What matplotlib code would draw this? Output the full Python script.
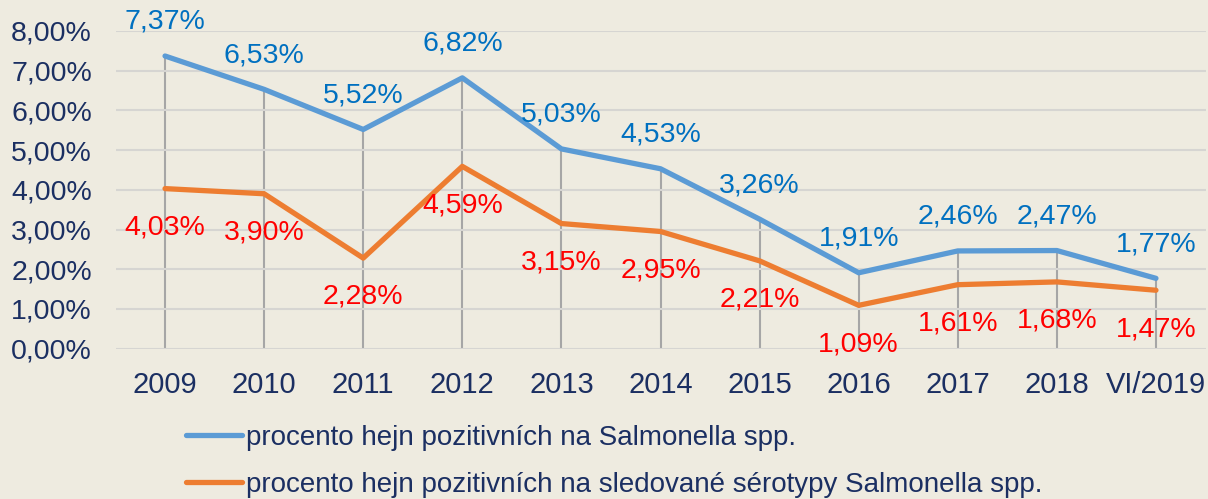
import matplotlib
matplotlib.use("Agg")
import matplotlib.pyplot as plt
from matplotlib.ticker import FuncFormatter

categories = ["2009", "2010", "2011", "2012", "2013", "2014", "2015", "2016", "2017", "2018", "VI/2019"]
blue_vals = [7.37, 6.53, 5.52, 6.82, 5.03, 4.53, 3.26, 1.91, 2.46, 2.47, 1.77]
orange_vals = [4.03, 3.90, 2.28, 4.59, 3.15, 2.95, 2.21, 1.09, 1.61, 1.68, 1.47]
blue_name = "procento hejn pozitivních na Salmonella spp."
orange_name = "procento hejn pozitivních na sledované sérotypy Salmonella spp."

plt.rcParams['font.family'] = ['Liberation Sans', 'DejaVu Sans']
bg = "#EEEBE0"
navy = "#1B2F62"
W, H = 1208, 499
fig = plt.figure(figsize=(W / 100, H / 100), dpi=100, facecolor=bg)
ax = fig.add_axes([115.5 / W, 1 - 348.6 / H, 1090 / W, (348.6 - 31) / H])
ax.set_facecolor(bg)

x = list(range(len(categories)))
ax.set_xlim(-0.5, len(categories) - 0.5)
ax.set_ylim(0, 8)
ax.set_yticks([0, 1, 2, 3, 4, 5, 6, 7, 8])
ax.yaxis.set_major_formatter(FuncFormatter(lambda v, p: f"{v:.2f}%".replace(".", ",")))
ax.grid(axis='y', color="#D6D5D2", linewidth=1.5, zorder=0)
for s in ax.spines.values():
    s.set_visible(False)
ax.tick_params(length=0, labelsize=20.5, labelcolor=navy)
ax.tick_params(axis='y', pad=17)
ax.tick_params(axis='x', labelsize=21, pad=16)
ax.set_xticks(x)
ax.set_xticklabels(categories)

ax.vlines(x, 0, blue_vals, colors="#A6A6A6", linewidth=1.5, zorder=1)
l1, = ax.plot(x, blue_vals, color="#5B9BD5", linewidth=3.8, solid_capstyle='round', zorder=3, label=blue_name)
l2, = ax.plot(x, orange_vals, color="#ED7D31", linewidth=3.8, solid_capstyle='round', zorder=3, label=orange_name)

for xi, v in zip(x, blue_vals):
    ax.annotate(f"{v:.2f}%".replace(".", ","), (xi, v), xytext=(0, 24.5), textcoords='offset points',
                ha='center', va='center', fontsize=20.5, color="#0070C0", zorder=4, annotation_clip=False)
for xi, v in zip(x, orange_vals):
    ax.annotate(f"{v:.2f}%".replace(".", ","), (xi, v), xytext=(0, -28), textcoords='offset points',
                ha='center', va='center', fontsize=20.5, color="#FF0000", zorder=4, annotation_clip=False)

leg = fig.legend(handles=[l1, l2], loc='upper left', bbox_to_anchor=(186 / W, 1 - 425 / H),
                 frameon=False, fontsize=20, handlelength=2.0, handletextpad=0.15,
                 labelspacing=0.75, borderpad=0, borderaxespad=0)
for t in leg.get_texts():
    t.set_color(navy)

fig.savefig("out.png", dpi=100, facecolor=bg)
